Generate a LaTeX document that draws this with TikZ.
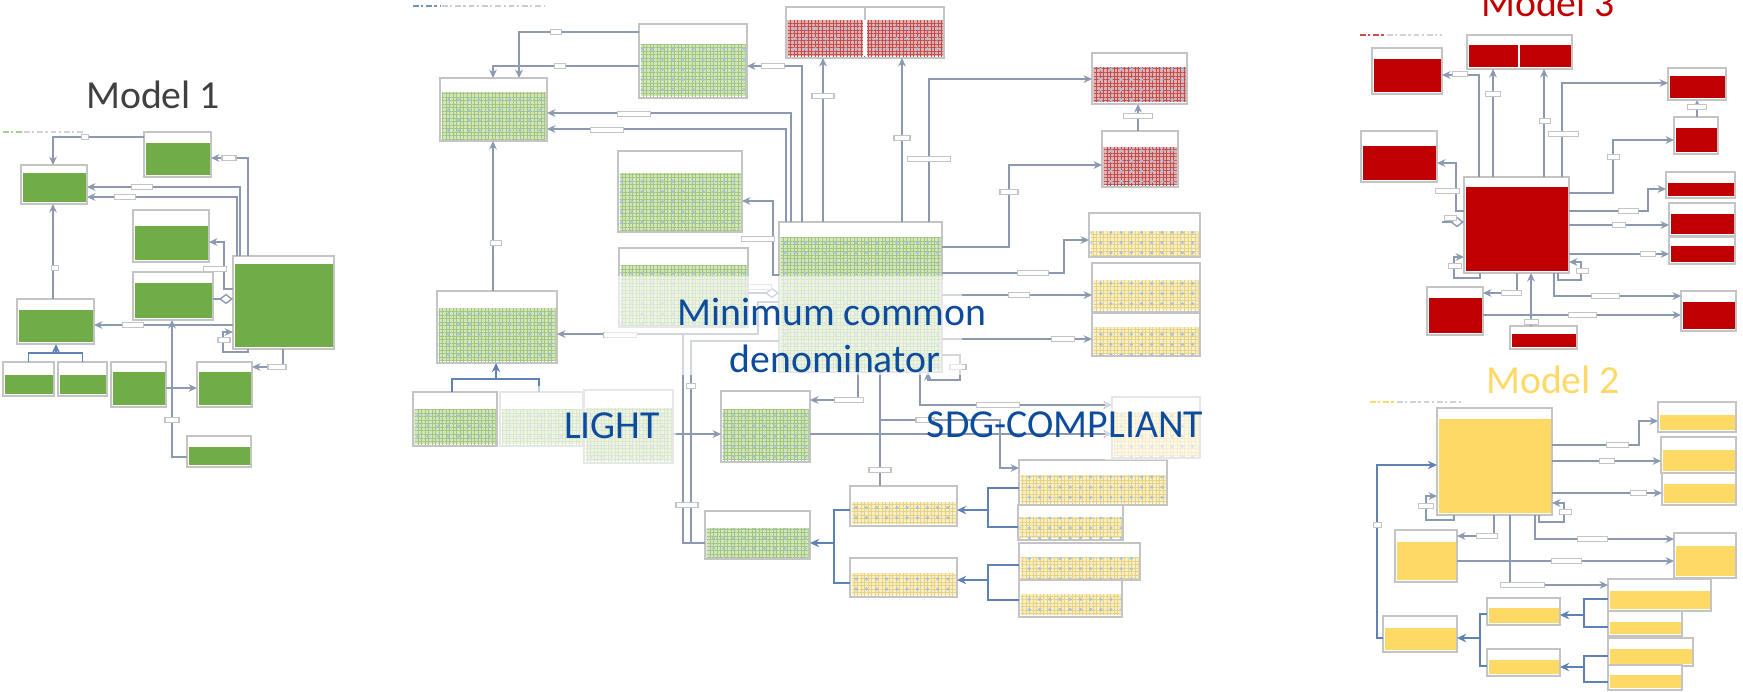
\documentclass[tikz,border=0pt]{standalone}
\usepackage{fontspec}
\setmainfont{Carlito}
\usetikzlibrary{arrows.meta,fit,patterns.meta}

\definecolor{mgreen}{HTML}{70AD47}
\definecolor{mred}{HTML}{C00000}
\definecolor{myellow}{HTML}{FFD966}
\definecolor{mgray}{HTML}{404040}
\definecolor{mblue}{HTML}{0D4C9C}
\definecolor{framegray}{HTML}{C4C4C4}
\definecolor{linkgray}{HTML}{8C9AB1}
\definecolor{treeblue}{HTML}{5F82B5}
\definecolor{gbg}{HTML}{D3E5BA}
\definecolor{gln}{HTML}{A2C680}
\definecolor{rbg}{HTML}{E3AFAF}
\definecolor{rln}{HTML}{BF4F4F}
\definecolor{ybg}{HTML}{FAEFC4}
\definecolor{yln}{HTML}{E6D283}
\definecolor{dotblue}{HTML}{A3C2E8}

% table: name, x1, y1, x2, y2, header bottom, body style
\newcommand{\erbox}[7]{%
	\node[frame, fit={(#2,#3) (#4,#5)}] (#1) {};
	\fill[#7] (#2+1.5,#6) rectangle (#4-1.5,#5-2);
}

\begin{document}
\begin{tikzpicture}[x=0.1mm, y=-0.1mm,
		frame/.style={draw=framegray, fill=white, line width=0.4pt, inner sep=0pt, outer sep=0pt},
		gsol/.style={fill=mgreen}, rsol/.style={fill=mred}, ysol/.style={fill=myellow},
		gpat/.style={preaction={fill=gbg}, pattern={Hatch[distance=1pt,line width=0.25pt]}, pattern color=gln, postaction={pattern={Dots[distance=2.9pt,radius=0.5pt]}, pattern color=dotblue}},
		rpat/.style={preaction={fill=rbg}, pattern={Hatch[distance=1pt,line width=0.25pt]}, pattern color=rln, postaction={pattern={Dots[distance=2.9pt,radius=0.5pt]}, pattern color=dotblue}},
		ypat/.style={preaction={fill=ybg}, pattern={Hatch[distance=1pt,line width=0.25pt]}, pattern color=yln, postaction={pattern={Dots[distance=2.9pt,radius=0.5pt]}, pattern color=dotblue}},
		link/.style={draw=linkgray, line width=0.4pt},
		arr/.style={link, -{Stealth[length=2.4pt,width=2.2pt]}},
		tree/.style={draw=treeblue, line width=0.55pt},
		treearr/.style={tree, -{Stealth[length=2.6pt,width=2.4pt]}},
		agg/.style={link, -{Diamond[open,length=4pt,width=3pt]}},
		lbl/.style={draw=framegray, fill=white, line width=0.3pt, inner sep=0pt, minimum height=0.55mm, minimum width=#1*0.1mm},
		ttl/.style={font=\fontsize{11.3}{13}\selectfont, inner sep=0pt, anchor=base},
		fade/.style={fill=white, opacity=0.6},
		legend/.style={line width=0.45pt, dash pattern=on 1.6pt off 0.7pt on 0.6pt off 0.9pt}]
	\useasboundingbox (0,0) rectangle (1743,691);

	% ---------- Model 1 ----------
	\node[ttl, text=mgray] (t1) at (153,108) {Model 1};
	\draw[legend, draw=mgreen!60] (3,132) -- (22,132);
	\draw[legend, draw=gray!35] (24,132) -- (83,132);
	\erbox{A}{144}{132}{211}{177}{143}{gsol}
	\erbox{B}{21}{165}{87}{204}{173}{gsol}
	\erbox{C}{133}{210}{209}{262}{226}{gsol}
	\erbox{D}{133}{272}{213}{320}{283}{gsol}
	\erbox{E}{233}{256}{334}{349}{264}{gsol}
	\erbox{F}{17}{299}{94}{344}{310}{gsol}
	\erbox{G1}{3}{362}{54}{396}{375}{gsol}
	\erbox{G2}{58}{362}{107}{396}{375}{gsol}
	\erbox{H}{111}{362}{166}{407}{372}{gsol}
	\erbox{I}{197}{362}{252}{407}{372}{gsol}
	\erbox{J}{187}{436}{251}{467}{447}{gsol}
	\draw[arr] (A.west |- 0,137) -| (B.north -| 53,0);
	\node[lbl=7] (l1a) at (85,137) {};
	\draw[arr] (E.north -| 248,0) |- (A.east |- 0,158);
	\node[lbl=14] (l1b) at (229,158) {};
	\draw[arr] (E.north -| 240,0) |- (B.east |- 0,187);
	\node[lbl=21] (l1c) at (142,187) {};
	\draw[arr] (E.north -| 237,0) |- (B.east |- 0,197);
	\node[lbl=21] (l1d) at (125,197) {};
	\draw[arr] (F.north -| 53,0) -- (B.south -| 53,0);
	\node[lbl=7] (l1e) at (55,268) {};
	\draw[arr] (E.west |- 0,289) -| (224,242) -- (C.east |- 0,242);
	\node[lbl=23] (l1f) at (215,269) {};
	\draw[agg] (D.east |- 0,299) -- (E.west |- 0,299);
	\draw[arr] (E.west |- 0,325) -- (F.east |- 0,325);
	\node[lbl=21] (l1g) at (133,325) {};
	\draw[arr] (J.west |- 0,457) -| (D.south -| 172,0);
	\node[lbl=14] (l1h) at (172,420) {};
	\draw[arr] (H.east |- 0,388) -- (I.west |- 0,388);
	\draw[arr] (E.south -| 283,0) |- (I.east |- 0,367);
	\node[lbl=18] (l1i) at (277,367) {};
	\draw[arr] (E.south -| 248,0) |- (223,352) |- (E.west |- 0,332);
	\node[lbl=12] (l1j) at (224,340) {};
	\coordinate (gj) at (56,353);
	\draw[tree] (G1.north) |- (gj) -| (G2.north);
	\draw[treearr] (gj) -- (F.south -| gj);

	% ---------- Model 3 ----------
	\node[ttl, text=mred] (t3) at (1548,16) {Model 3};
	\draw[legend, draw=mred!70] (1360,35) -- (1385,35);
	\draw[legend, draw=gray!35] (1387,35) -- (1442,35);
	\erbox{R1}{1372}{48}{1442}{94}{59}{rsol}
	\erbox{R2}{1467}{35}{1572}{69}{45}{rsol}
	\draw[white, line width=0.8pt] (1519,45) -- (1519,67);
	\erbox{R3}{1668}{68}{1726}{100}{76}{rsol}
	\erbox{R4}{1674}{117}{1718}{154}{128}{rsol}
	\erbox{R5}{1361}{131}{1437}{182}{146}{rsol}
	\erbox{R6}{1464}{177}{1569}{273}{187}{rsol}
	\erbox{R7}{1666}{172}{1735}{198}{183}{rsol}
	\erbox{R8}{1669}{203}{1735}{236}{214}{rsol}
	\erbox{R9}{1669}{237}{1735}{264}{246}{rsol}
	\erbox{R10}{1427}{287}{1483}{335}{298}{rsol}
	\erbox{R11}{1510}{326}{1577}{349}{334}{rsol}
	\erbox{R12}{1681}{291}{1736}{331}{302}{rsol}
	\draw[arr] (R6.north -| 1479,0) |- (R1.east |- 0,75);
	\node[lbl=15] (l3a) at (1460,74) {};
	\draw[arr] (R6.north -| 1493,0) -- (R2.south -| 1493,0);
	\node[lbl=15] (l3b) at (1493,94) {};
	\draw[arr] (R6.north -| 1544,0) -- (R2.south -| 1544,0);
	\node[lbl=11] (l3c) at (1545,121) {};
	\draw[arr] (R6.north -| 1562,0) |- (R3.west |- 0,83);
	\node[lbl=30] (l3d) at (1563,134) {};
	\draw[arr] (R4.north -| 1697,0) -- (R3.south -| 1697,0);
	\node[lbl=19] (l3e) at (1697,107) {};
	\draw[arr] (R6.east |- 0,193) -| (1613,140) -- (R4.west |- 0,140);
	\node[lbl=12] (l3f) at (1613,157) {};
	\draw[arr] (R6.west |- 0,211) -| (1456,163) -- (R5.east |- 0,163);
	\node[lbl=24] (l3g) at (1447,191) {};
	\coordinate (in3) at (1442,222);
	\draw[agg] (in3) -- (R6.west |- in3);
	\node[lbl=12] (l3h) at (1450,218) {};
	\draw[arr] (R6.east |- 0,211) -| (1648,189) -- (R7.west |- 0,189);
	\node[lbl=20] (l3i) at (1628,211) {};
	\draw[arr] (R6.east |- 0,225) -- (R8.west |- 0,225);
	\node[lbl=13] (l3j) at (1619,225) {};
	\draw[arr] (R6.east |- 0,254) -- (R9.west |- 0,254);
	\node[lbl=15] (l3k) at (1648,254) {};
	\draw[arr] (R6.south -| 1558,0) |- (1581,280) |- (R6.east |- 0,262);
	\node[lbl=12] (l3l) at (1582,271) {};
	\draw[arr] (R6.south -| 1480,0) |- (1454,278) |- (R6.west |- 0,257);
	\node[lbl=13] (l3m) at (1455,266) {};
	\draw[arr] (R6.south -| 1517,0) |- (R10.east |- 0,293);
	\node[lbl=20] (l3n) at (1511,293) {};
	\draw[arr] (R11.north -| 1531,0) -- (R6.south -| 1531,0);
	\node[lbl=14] (l3o) at (1531,322) {};
	\draw[arr] (R10.east |- 0,315) -- (R12.west |- 0,315);
	\node[lbl=28] (l3p) at (1582,315) {};
	\draw[arr] (R6.south -| 1554,0) |- (R12.west |- 0,296);
	\node[lbl=28] (l3q) at (1605,296) {};

	% ---------- Model 2 ----------
	\node[ttl, text=myellow] (t2) at (1553,393) {Model 2};
	\draw[legend, draw=myellow] (1370,402) -- (1395,402);
	\draw[legend, draw=gray!35] (1397,402) -- (1462,402);
	\erbox{Y1}{1437}{408}{1552}{515}{419}{ysol}
	\erbox{Y2}{1658}{402}{1736}{432}{415}{ysol}
	\erbox{Y3}{1661}{437}{1736}{473}{450}{ysol}
	\erbox{Y4}{1662}{473}{1736}{505}{484}{ysol}
	\erbox{Y5}{1395}{530}{1457}{582}{542}{ysol}
	\erbox{Y6}{1674}{533}{1736}{578}{546}{ysol}
	\erbox{Y7}{1608}{579}{1711}{611}{591}{ysol}
	\erbox{Y8}{1608}{611}{1682}{636}{622}{ysol}
	\erbox{Y9}{1487}{598}{1560}{625}{608}{ysol}
	\erbox{Y10}{1383}{616}{1457}{652}{628}{ysol}
	\erbox{Y11}{1487}{649}{1560}{676}{660}{ysol}
	\erbox{Y12}{1608}{638}{1693}{666}{649}{ysol}
	\erbox{Y13}{1608}{665}{1682}{690}{675}{ysol}
	\draw[arr] (Y1.east |- 0,445) -| (1639,421) -- (Y2.west |- 0,421);
	\node[lbl=22] (l2a) at (1617,445) {};
	\draw[arr] (Y1.east |- 0,461) -- (Y3.west |- 0,461);
	\node[lbl=15] (l2b) at (1607,461) {};
	\draw[arr] (Y1.east |- 0,493) -- (Y4.west |- 0,493);
	\node[lbl=16] (l2c) at (1638,493) {};
	\draw[arr] (Y1.south -| 1539,0) |- (1564,522) |- (Y1.east |- 0,503);
	\node[lbl=12] (l2d) at (1565,512) {};
	\draw[arr] (Y1.south -| 1454,0) |- (1426,520) |- (Y1.west |- 0,496);
	\node[lbl=15] (l2e) at (1426,506) {};
	\draw[treearr] (Y10.west |- 0,638) -| (1377,465) -- (Y1.west |- 0,465);
	\node[lbl=8] (l2f) at (1377,525) {};
	\draw[arr] (Y1.south -| 1494,0) |- (Y5.east |- 0,536);
	\node[lbl=21] (l2g) at (1487,536) {};
	\draw[arr] (Y1.south -| 1535,0) |- (Y6.west |- 0,539);
	\node[lbl=30] (l2h) at (1592,539) {};
	\draw[arr] (Y5.east |- 0,561) -- (Y6.west |- 0,561);
	\node[lbl=30] (l2i) at (1566,561) {};
	\draw[arr] (Y1.south -| 1510,0) |- (Y7.west |- 0,585);
	\node[lbl=44] (l2j) at (1522,585) {};
	\coordinate (y9j) at (1480,638);
	\draw[tree] (Y9.west |- 0,614) -| (y9j) |- (Y11.west |- 0,666);
	\draw[treearr] (y9j) -- (Y10.east |- y9j);
	\coordinate (y7j) at (1584,615);
	\draw[tree] (Y7.west |- 0,599) -| (y7j) |- (Y8.west |- 0,627);
	\draw[treearr] (y7j) -- (Y9.east |- y7j);
	\coordinate (y12j) at (1584,667);
	\draw[tree] (Y12.west |- 0,656) -| (y12j) |- (Y13.west |- 0,682);
	\draw[treearr] (y12j) -- (Y11.east |- y12j);

	% ---------- common model ----------
	\draw[legend, draw=mblue!60] (413,6) -- (440,6);
	\draw[legend, draw=gray!40] (442,6) -- (544,6);
	\erbox{M1}{639}{24}{747}{98}{44}{gpat}
	\erbox{M2}{786}{7}{944}{58}{20}{rpat}
	\draw[white, line width=1.2pt] (865,20) -- (865,56);
	\draw[framegray, line width=0.3pt] (865,7) -- (865,20);
	\erbox{M3}{440}{78}{547}{141}{92}{gpat}
	\erbox{Ra}{1092}{53}{1187}{104}{67}{rpat}
	\erbox{Rb}{1102}{131}{1178}{187}{147}{rpat}
	\erbox{M4}{618}{151}{742}{232}{173}{gpat}
	\erbox{M5}{619}{248}{748}{327}{265}{gpat}
	\erbox{M6}{779}{222}{942}{372}{237}{gpat}
	\erbox{Ya}{1089}{213}{1200}{257}{231}{ypat}
	\erbox{Yb}{1092}{263}{1200}{312}{280}{ypat}
	\erbox{Yc}{1092}{313}{1200}{356}{327}{ypat}
	\erbox{M7}{437}{291}{557}{363}{308}{gpat}
	\erbox{M8a}{413}{392}{497}{446}{409}{gpat}
	\erbox{M8b}{500}{392}{583}{446}{409}{gpat}
	\erbox{M9}{584}{390}{673}{463}{408}{gpat}
	\erbox{M10}{721}{391}{810}{462}{409}{gpat}
	\erbox{Yd}{1112}{397}{1200}{458}{412}{ypat}
	\erbox{Ye}{850}{486}{957}{526}{502}{ypat}
	\erbox{Yf}{1019}{460}{1167}{505}{475}{ypat}
	\erbox{Yg}{1018}{505}{1123}{540}{517}{ypat}
	\erbox{M11}{705}{511}{810}{559}{528}{gpat}
	\erbox{Yh}{850}{558}{957}{597}{573}{ypat}
	\erbox{Yi}{1019}{543}{1140}{580}{557}{ypat}
	\erbox{Yj}{1019}{580}{1122}{617}{594}{ypat}
	\draw[arr] (M1.west |- 0,32) -| (M3.north -| 519,0);
	\node[lbl=11] (lma) at (556,32) {};
	\draw[arr] (M1.west |- 0,66) -| (M3.north -| 493,0);
	\node[lbl=11] (lmb) at (560,66) {};
	\draw[arr] (M6.north -| 802,0) |- (M1.east |- 0,66);
	\node[lbl=23] (lmc) at (773,66) {};
	\draw[arr] (M6.north -| 791,0) |- (M3.east |- 0,113);
	\node[lbl=33] (lmd) at (634,114) {};
	\draw[arr] (M6.north -| 786,0) |- (M3.east |- 0,129);
	\node[lbl=33] (lme) at (607,130) {};
	\draw[arr] (M6.north -| 823,0) -- (M2.south -| 823,0);
	\node[lbl=22] (lmf) at (823,96) {};
	\draw[arr] (M6.north -| 902,0) -- (M2.south -| 902,0);
	\node[lbl=16] (lmg) at (902,138) {};
	\draw[arr] (M6.north -| 929,0) |- (Ra.west |- 0,79);
	\node[lbl=43] (lmh) at (929,159) {};
	\draw[arr] (Rb.north -| 1138,0) -- (Ra.south -| 1138,0);
	\node[lbl=29] (lmi) at (1138,116) {};
	\draw[arr] (M6.east |- 0,247) -| (1009,165) -- (Rb.west |- 0,165);
	\node[lbl=18] (lmj) at (1009,192) {};
	\draw[arr] (M6.west |- 0,275) -| (773,201) -- (M4.east |- 0,201);
	\node[lbl=33] (lmk) at (758,239) {};
	\draw[agg] (M5.east |- 0,293) -- (M6.west |- 0,293);
	\node[lbl=23] (lml) at (760,287) {};
	\draw[arr] (M7.north -| 493,0) -- (M3.south -| 493,0);
	\node[lbl=11] (lmm) at (496,243) {};
	\coordinate (m7j) at (683,334);
	\draw[arr] (M6.west |- 0,302) -| (758,334) -- (M7.east |- 0,334);
	\node[lbl=33] (lmn) at (620,335) {};
	\draw[link] (M6.west |- 0,341) -| (691,543) -- (M11.west |- 0,543);
	\draw[link] (m7j) |- (M11.west |- 0,543);
	\node[lbl=9] (lmo) at (691,386) {};
	\node[lbl=22] (lmp) at (687,505) {};
	\draw[arr] (M9.east |- 0,434) -- (M10.west |- 0,434);
	\draw[arr] (M6.south -| 858,0) |- (M10.east |- 0,400);
	\node[lbl=29] (lmq) at (849,400) {};
	\draw[arr] (M10.east |- 0,434) -- (Yd.west |- 0,434);
	\draw[link] (M6.south -| 880,0) -- (Ye.north -| 880,0);
	\node[lbl=22] (lmr) at (880,470) {};
	\coordinate (sdgj) at (880,420);
	\draw[arr] (sdgj) -| (1000,468) -- (Yf.west |- 0,468);
	\node[lbl=18] (lms) at (925,420) {};
	\draw[arr] (M6.south -| 920,0) |- (Yd.west |- 0,405);
	\node[lbl=43] (lmt) at (998,405) {};
	\draw[arr] (M6.east |- 0,355) -| (960,380) -| (M6.south -| 928,0);
	\node[lbl=16] (lmu) at (958,367) {};
	\draw[arr] (M6.east |- 0,273) -| (1064,240) -- (Ya.west |- 0,240);
	\node[lbl=31] (lmv) at (1033,273) {};
	\draw[arr] (M6.east |- 0,295) -- (Yb.west |- 0,295);
	\node[lbl=21] (lmw) at (1019,295) {};
	\draw[arr] (M6.east |- 0,339) -- (Yc.west |- 0,339);
	\node[lbl=23] (lmx) at (1063,339) {};
	\coordinate (m8j) at (496,379);
	\draw[tree] (M8a.north -| 452,0) |- (m8j) -| (M8b.north -| 539,0);
	\draw[treearr] (m8j) -- (M7.south -| m8j);
	\coordinate (yej) at (834,543);
	\draw[tree] (Ye.west |- 0,510) -| (yej) |- (Yh.west |- 0,583);
	\draw[treearr] (yej) -- (M11.east |- yej);
	\coordinate (yfj) at (988,510);
	\draw[tree] (Yf.west |- 0,488) -| (yfj) |- (Yg.west |- 0,527);
	\draw[treearr] (yfj) -- (Ye.east |- yfj);
	\coordinate (yij) at (988,580);
	\draw[tree] (Yi.west |- 0,565) -| (yij) |- (Yj.west |- 0,600);
	\draw[treearr] (yij) -- (Yh.east |- yij);

	% faded areas under the captions
	\fill[fade] (605,276) rectangle (962,375);
	\fill[fade] (498,386) rectangle (676,466);
	\fill[fade] (1105,392) rectangle (1203,460);
	\node[ttl, text=mblue] (cap1) at (832,325) {Minimum common};
	\node[ttl, text=mblue] (cap2) at (835,372) {denominator};
	\node[ttl, text=mblue] (cap3) at (612,438) {LIGHT};
	\node[ttl, text=mblue] (cap4) at (1065,437) {SDG-COMPLIANT};
\end{tikzpicture}
\end{document}
